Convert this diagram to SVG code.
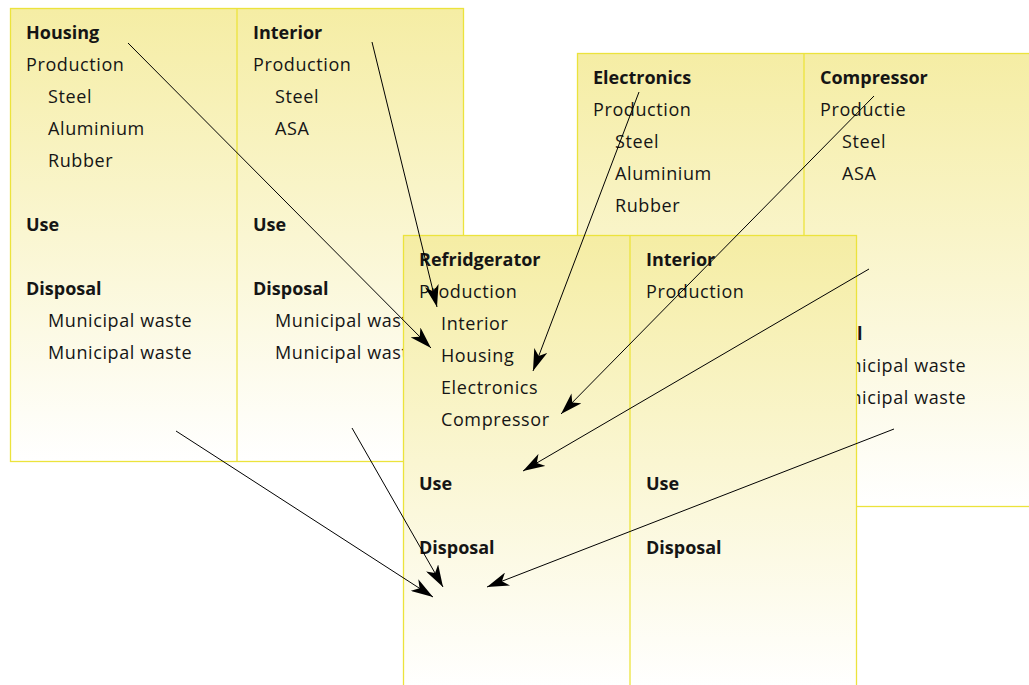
<svg xmlns="http://www.w3.org/2000/svg" width="1029" height="685" viewBox="0 0 1029 685">
<defs>
<linearGradient id="g" x1="0" y1="0" x2="0" y2="1">
<stop offset="0" stop-color="#f5eda4"/>
<stop offset="1" stop-color="#ffffff"/>
</linearGradient>
<marker id="ah" markerUnits="userSpaceOnUse" markerWidth="24" markerHeight="14" refX="22" refY="7" orient="auto" viewBox="0 0 24 14">
<path d="M0,0 L22,7 L0,14 L6,7 z" fill="#000"/>
</marker>
<style>
.panel{fill:url(#g);stroke:#ece33c;stroke-width:1.3}
.div{stroke:#ece33c;stroke-width:1.3}
text{font-family:"Open Sans","Noto Sans",sans-serif;font-size:18px;fill:#151515;letter-spacing:0.6px}
.h{font-weight:bold;letter-spacing:0}
.c line{stroke:#000;stroke-width:1;marker-end:url(#ah)}
</style>
</defs>
<g id="housing-interior">
<rect class="panel" x="10.5" y="8.5" width="453" height="453"/>
<line class="div" x1="237" y1="8.5" x2="237" y2="461.5"/>
<text x="26" y="39" class="h">Housing</text>
<text x="26" y="71">Production</text>
<text x="48" y="103">Steel</text>
<text x="48" y="135">Aluminium</text>
<text x="48" y="167">Rubber</text>
<text x="26" y="231" class="h">Use</text>
<text x="26" y="295" class="h">Disposal</text>
<text x="48" y="327">Municipal waste</text>
<text x="48" y="359">Municipal waste</text>
<text x="253" y="39" class="h">Interior</text>
<text x="253" y="71">Production</text>
<text x="275" y="103">Steel</text>
<text x="275" y="135">ASA</text>
<text x="253" y="231" class="h">Use</text>
<text x="253" y="295" class="h">Disposal</text>
<text x="275" y="327">Municipal waste</text>
<text x="275" y="359">Municipal waste</text>
</g>
<g id="electronics-compressor">
<rect class="panel" x="577.5" y="53.5" width="453" height="453"/>
<line class="div" x1="804" y1="53.5" x2="804" y2="506.5"/>
<text x="593" y="84" class="h">Electronics</text>
<text x="593" y="116">Production</text>
<text x="615" y="148">Steel</text>
<text x="615" y="180">Aluminium</text>
<text x="615" y="212">Rubber</text>
<text x="593" y="276" class="h">Use</text>
<text x="593" y="340" class="h">Disposal</text>
<text x="615" y="372">Municipal waste</text>
<text x="615" y="404">Municipal waste</text>
<text x="820" y="84" class="h">Compressor</text>
<text x="820" y="116">Productie</text>
<text x="842" y="148">Steel</text>
<text x="842" y="180">ASA</text>
<text x="820" y="276" class="h">Use</text>
<text x="787" y="340" class="h">Disposal</text>
<text x="822" y="372">Municipal waste</text>
<text x="822" y="404">Municipal waste</text>
</g>
<g id="refridgerator">
<rect class="panel" x="403.5" y="235.5" width="453" height="453"/>
<line class="div" x1="630" y1="235.5" x2="630" y2="688"/>
<text x="419" y="266" class="h">Refridgerator</text>
<text x="419" y="298">Production</text>
<text x="441" y="330">Interior</text>
<text x="441" y="362">Housing</text>
<text x="441" y="394">Electronics</text>
<text x="441" y="426">Compressor</text>
<text x="419" y="490" class="h">Use</text>
<text x="419" y="554" class="h">Disposal</text>
<text x="646" y="266" class="h">Interior</text>
<text x="646" y="298">Production</text>
<text x="646" y="490" class="h">Use</text>
<text x="646" y="554" class="h">Disposal</text>
</g>
<g id="connectors" class="c">
<line x1="128" y1="43" x2="431" y2="348"/>
<line x1="372" y1="42" x2="437" y2="307"/>
<line x1="639" y1="92" x2="533" y2="371"/>
<line x1="874" y1="96" x2="561" y2="414"/>
<line x1="869" y1="269" x2="523" y2="471"/>
<line x1="894" y1="429" x2="487" y2="587"/>
<line x1="176" y1="431" x2="433" y2="597"/>
<line x1="352" y1="428" x2="443" y2="587"/>
</g>
</svg>
